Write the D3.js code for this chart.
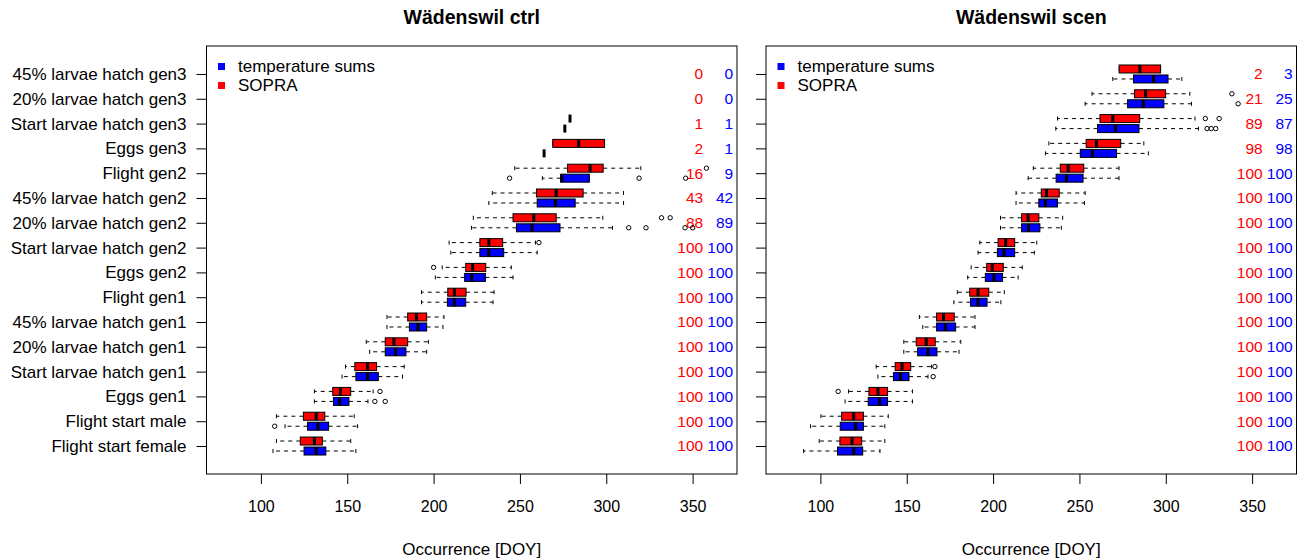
<!DOCTYPE html>
<html>
<head>
<meta charset="utf-8">
<script src="https://cdn.jsdelivr.net/npm/d3@7"></script>
<style>
body { margin: 0; background: #fff; }
svg text { font-family: "Liberation Sans", Arial, Helvetica, sans-serif; }
</style>
</head>
<body>
<div id="chart"></div>
<script>
// rows, top to bottom
const categories = [
    "45% larvae hatch gen3", "20% larvae hatch gen3", "Start larvae hatch gen3", "Eggs gen3",
    "Flight gen2", "45% larvae hatch gen2", "20% larvae hatch gen2", "Start larvae hatch gen2",
    "Eggs gen2", "Flight gen1", "45% larvae hatch gen1", "20% larvae hatch gen1",
    "Start larvae hatch gen1", "Eggs gen1", "Flight start male", "Flight start female"
]
const x_ticks = [100, 150, 200, 250, 300, 350]
const legend_labels = ["temperature sums", "SOPRA"]

// box stats: [lower whisker, lower hinge, median, upper hinge, upper whisker]
const ctrl_sopra = [
    null, null,
    [279, 279, 279, 279, 279],
    [269, 269, 284, 299, 299],
    [247, 277.6, 290.6, 298.2, 320],
    [234, 259.6, 271, 286.6, 310],
    [223, 246, 258, 271, 298],
    [209, 226.8, 232, 240, 259],
    [205, 218.6, 222.6, 230.2, 245],
    [193, 208.2, 212, 218.8, 235],
    [173, 185, 190, 196, 206],
    [161, 172, 177, 185, 197],
    [149, 154.4, 161.8, 167, 183],
    [131, 141.6, 146, 152, 165],
    [109, 124.6, 132, 137, 154],
    [109, 122.8, 131, 135.6, 152]
]
const ctrl_sopra_out = [[], [], [], [], [358], [], [332, 337], [261], [200], [], [], [], [], [169], [], []]
const ctrl_temp = [
    null, null,
    [276, 276, 276, 276, 276],
    [264, 264, 264, 264, 264],
    [263, 273.6, 274.2, 290.2, 290.2],
    [232, 260, 270.6, 282, 310],
    [222, 248, 257, 273.2, 303.6],
    [210, 226.8, 232, 240.6, 260],
    [201, 218, 222, 230, 246],
    [193, 208, 212, 218.6, 234.4],
    [173, 186, 191, 196, 205.4],
    [163, 172, 178, 184, 196],
    [147, 155, 161.8, 168, 182],
    [131, 142, 145.6, 151, 162],
    [114, 127, 133, 139.2, 156],
    [107, 125, 132, 137.6, 155]
]
const ctrl_temp_out = [[], [], [], [], [244, 319, 346], [], [313, 323, 345.6, 350], [], [], [], [], [], [], [166, 172], [108], []]
const ctrl_sopra_n = [0, 0, 1, 2, 16, 43, 88, 100, 100, 100, 100, 100, 100, 100, 100, 100]
const ctrl_temp_n = [0, 0, 1, 1, 9, 42, 89, 100, 100, 100, 100, 100, 100, 100, 100, 100]

const scen_sopra = [
    [273, 273, 285, 297, 297],
    [257.3, 281.9, 288.3, 299.9, 313.9],
    [237.3, 261.9, 269.3, 284.9, 316.9],
    [232.3, 253.9, 259.9, 273.9, 287.3],
    [223.3, 238.9, 243.5, 252.5, 272.9],
    [213.3, 227.9, 230.9, 238.3, 253.3],
    [204.3, 216.5, 220.3, 226.5, 240.3],
    [192.3, 202.9, 207.3, 212.5, 225.3],
    [187.3, 196.3, 199.5, 205.9, 216.9],
    [179.3, 186.5, 191.3, 197.5, 206.5],
    [157.3, 167.3, 171.3, 177.5, 189.5],
    [148.3, 155.5, 161.3, 166.5, 181.3],
    [132.3, 143.3, 147.3, 152.3, 164.3],
    [116.3, 128.1, 133.3, 138.9, 153.3],
    [100.3, 112.3, 119.3, 124.9, 139.3],
    [99.3, 111.3, 118.3, 123.9, 137.3]
]
const scen_sopra_out = [[], [338.3], [322.9, 330.9], [], [], [], [], [], [], [], [], [], [166.3], [110.3], [], []]
const scen_temp = [
    [269.3, 281.3, 292.9, 301.3, 309.3],
    [253.3, 277.9, 286.9, 298.9, 314.9],
    [236.3, 260.5, 270.9, 284.5, 318.9],
    [230.3, 250.5, 257.5, 271.5, 289.9],
    [220.3, 236.5, 242.5, 252.1, 272.9],
    [213.3, 226.5, 230.3, 237.3, 252.9],
    [204.3, 216.5, 220.5, 227.1, 239.5],
    [191.3, 202.5, 206.3, 212.5, 223.9],
    [185.3, 195.5, 200.5, 205.5, 214.5],
    [177.3, 186.9, 191.3, 196.5, 204.5],
    [159.3, 167.3, 172.3, 178.3, 189.5],
    [148.3, 156.3, 162.3, 167.5, 180.3],
    [133.3, 142.3, 146.3, 151.3, 162.3],
    [114.3, 127.7, 134.3, 138.9, 153.3],
    [94.3, 111.5, 120.3, 124.9, 137.3],
    [90.3, 109.9, 119.3, 124.5, 134.5]
]
const scen_temp_out = [[], [341.9], [323.9, 326.3, 328.9], [], [], [], [], [], [], [], [], [], [165.3], [], [], []]
const scen_sopra_n = [2, 21, 89, 98, 100, 100, 100, 100, 100, 100, 100, 100, 100, 100, 100, 100]
const scen_temp_n = [3, 25, 87, 98, 100, 100, 100, 100, 100, 100, 100, 100, 100, 100, 100, 100]

const width = 1298, height = 559
const top_y = 46, bottom_y = 474
const font_size = "17px"
const num_size = "15.5px"
const box_h = 8

const svg = d3.select("#chart")
    .append("svg")
    .attr("width", width)
    .attr("height", height)

function draw_panel(param) {
    const x = d3.scaleLinear().domain([68.5, 375.7]).range([param.left, param.right])
    const y = d3.scalePoint().domain(categories).range([top_y, bottom_y]).padding(1.128)
    const g = svg.append("g")

    g.append("text")
        .attr("x", (param.left + param.right) / 2)
        .attr("y", 17)
        .attr("dy", "0.35em")
        .attr("text-anchor", "middle")
        .style("font-weight", "bold")
        .style("font-size", "19.5px")
        .text(param.title)

    // x axis
    g.append("g")
        .attr("transform", "translate(0," + bottom_y + ")")
        .call(d3.axisBottom(x)
            .tickValues(x_ticks)
            .tickSize(10)
            .tickPadding(17)
            .tickSizeOuter(0))
        .call(a => a.select(".domain").remove())
        .attr("font-family", null)
        .attr("font-size", "16px")

    // y axis
    g.append("g")
        .attr("transform", "translate(" + param.left + ",0)")
        .call(d3.axisLeft(y)
            .tickSize(10)
            .tickPadding(10)
            .tickFormat(param.show_labels ? null : ""))
        .call(a => a.select(".domain").remove())
        .attr("font-family", null)
        .attr("font-size", font_size)

    g.append("text")
        .attr("x", (param.left + param.right) / 2)
        .attr("y", 549)
        .attr("dy", "0.35em")
        .attr("text-anchor", "middle")
        .style("font-size", font_size)
        .text("Occurrence [DOY]")

    const series = [
        {stats: param.sopra, out: param.sopra_out, n: param.sopra_n, color: "#ff0000", shift: -5, num_x: 356.1},
        {stats: param.temp, out: param.temp_out, n: param.temp_n, color: "#0000ff", shift: 5, num_x: 373.5}
    ]

    series.forEach(s => {
        categories.forEach((c, i) => {
            // count label
            g.append("text")
                .attr("x", x(s.num_x))
                .attr("y", y(c))
                .attr("dy", "0.35em")
                .attr("text-anchor", "end")
                .style("font-size", num_size)
                .style("fill", s.color)
                .text(s.n[i])

            const st = s.stats[i]
            if (!st) return
            const cy = y(c) + s.shift

            // whiskers
            g.append("line")
                .attr("x1", x(st[1])).attr("x2", x(st[0]))
                .attr("y1", cy).attr("y2", cy)
                .attr("stroke", "#000")
                .attr("stroke-dasharray", "4,4")
            g.append("line")
                .attr("x1", x(st[3])).attr("x2", x(st[4]))
                .attr("y1", cy).attr("y2", cy)
                .attr("stroke", "#000")
                .attr("stroke-dasharray", "4,4")
            ;[st[0], st[4]].forEach(v => {
                g.append("line")
                    .attr("x1", x(v)).attr("x2", x(v))
                    .attr("y1", cy - 2).attr("y2", cy + 2)
                    .attr("stroke", "#000")
            })

            g.append("rect")
                .attr("x", x(st[1]))
                .attr("y", cy - box_h / 2)
                .attr("width", x(st[3]) - x(st[1]))
                .attr("height", box_h)
                .attr("fill", s.color)
                .attr("stroke", "#000")

            g.append("line")
                .attr("x1", x(st[2])).attr("x2", x(st[2]))
                .attr("y1", cy - box_h / 2).attr("y2", cy + box_h / 2)
                .attr("stroke", "#000")
                .attr("stroke-width", 3)

            s.out[i].forEach(v => {
                g.append("circle")
                    .attr("cx", x(v))
                    .attr("cy", cy)
                    .attr("r", 2.2)
                    .attr("fill", "none")
                    .attr("stroke", "#000")
            })
        })
    })

    // legend
    const leg_colors = ["#0000ff", "#ff0000"]
    legend_labels.forEach((l, k) => {
        g.append("rect")
            .attr("x", param.left + 11.5)
            .attr("y", 63 + k * 19)
            .attr("width", 7)
            .attr("height", 7)
            .attr("fill", leg_colors[k])
        g.append("text")
            .attr("x", param.left + 31.5)
            .attr("y", 66.5 + k * 19)
            .attr("dy", "0.35em")
            .style("font-size", font_size)
            .text(l)
    })

    // frame
    g.append("rect")
        .attr("x", param.left)
        .attr("y", top_y)
        .attr("width", param.right - param.left)
        .attr("height", bottom_y - top_y)
        .attr("fill", "none")
        .attr("stroke", "#000")
}

draw_panel({
    left: 206.5, right: 737, title: "Wädenswil ctrl", show_labels: true,
    sopra: ctrl_sopra, sopra_out: ctrl_sopra_out, sopra_n: ctrl_sopra_n,
    temp: ctrl_temp, temp_out: ctrl_temp_out, temp_n: ctrl_temp_n
})
draw_panel({
    left: 766, right: 1296.5, title: "Wädenswil scen", show_labels: false,
    sopra: scen_sopra, sopra_out: scen_sopra_out, sopra_n: scen_sopra_n,
    temp: scen_temp, temp_out: scen_temp_out, temp_n: scen_temp_n
})
</script>
</body>
</html>
